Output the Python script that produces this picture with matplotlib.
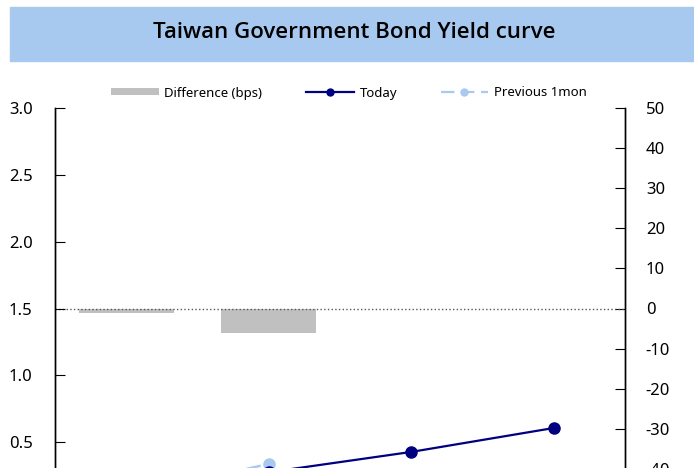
import matplotlib
matplotlib.use("Agg")
import matplotlib.pyplot as plt
from matplotlib.patches import Rectangle, Patch
from matplotlib.lines import Line2D

plt.rcParams['font.family'] = ['Noto Sans', 'DejaVu Sans']
plt.rcParams['axes.unicode_minus'] = False

nan = float("nan")

# yield curve data (previous month only has the short end)
tenors = ["2Y", "5Y", "10Y", "20Y"]
today = [0.088, 0.275, 0.427, 0.606]
prev_1mon = [0.10, 0.337, nan, nan]
diff_bps = [-1.2, -6.2, nan, nan]

left_ticks = [0.0, 0.5, 1.0, 1.5, 2.0, 2.5, 3.0]
right_ticks = [-50, -40, -30, -20, -10, 0, 10, 20, 30, 40, 50]

navy = "#000080"
light_blue = "#a9c9f0"
bar_grey = "#c0c0c0"

fig = plt.figure(figsize=(6.94, 4.68), dpi=100)

# title banner
fig.patches.append(Rectangle((10 / 694, 1 - 61 / 468), 1.0, 54 / 468,
                             transform=fig.transFigure, color="#a7c9ef", zorder=0))
fig.text(354 / 694, 1 - 33 / 468, "Taiwan Government Bond Yield curve",
         ha="center", va="center", fontsize=16, fontweight="semibold",
         family=["Open Sans", "DejaVu Sans"], color="black")

ax = fig.add_axes([55 / 694, -41 / 468, 570 / 694, 401 / 468])
ax2 = ax.twinx()

x = list(range(len(tenors)))

# difference bars on the right axis
ax2.bar(x, diff_bps, width=0.67, color=bar_grey, zorder=1)
ax2.axhline(0, color="#555555", linestyle=":", linewidth=1.0, zorder=2)
ax2.set_ylim(-50, 50)
ax2.set_yticks(right_ticks)
ax2.set_yticklabels([str(v) for v in right_ticks])

# yield lines on the left axis, kept above the bars
ax.set_zorder(ax2.get_zorder() + 1)
ax.patch.set_visible(False)
ax.plot(x, prev_1mon, color=light_blue, linestyle=(0, (6, 3)), linewidth=1.8,
        marker="o", markersize=8)
ax.plot(x, today, color=navy, linewidth=1.6, marker="o", markersize=8)
ax.set_ylim(0, 3.0)
ax.set_yticks(left_ticks)
ax.set_yticklabels(["%.1f" % v for v in left_ticks])
ax.set_xlim(-0.5, len(tenors) - 0.5)
ax.set_xticks(x)

for a in (ax, ax2):
    a.spines["top"].set_visible(False)
    a.spines["left"].set_linewidth(1.0)
    a.spines["right"].set_linewidth(1.0)
ax.tick_params(axis="y", direction="in", length=7, pad=16, labelsize=12)
ax2.tick_params(axis="y", direction="in", length=7, pad=15, labelsize=12)
ax.tick_params(axis="x", length=0, labelbottom=False)

handles = [
    Patch(facecolor=bar_grey, edgecolor="none"),
    Line2D([], [], color=navy, linewidth=1.6, marker="o", markersize=5),
    Line2D([], [], color=light_blue, linewidth=1.6, linestyle=(0, (6, 3)),
           marker="o", markersize=5),
]
fig.legend(handles, ["Difference (bps)", "Today", "Previous 1mon"],
           loc="center", bbox_to_anchor=(349 / 694, 1 - 93 / 468), ncol=3,
           frameon=False, fontsize=9.5, handlelength=3.6, handleheight=0.45,
           handletextpad=0.45, columnspacing=3.3)

fig.savefig("out.png", dpi=100)
